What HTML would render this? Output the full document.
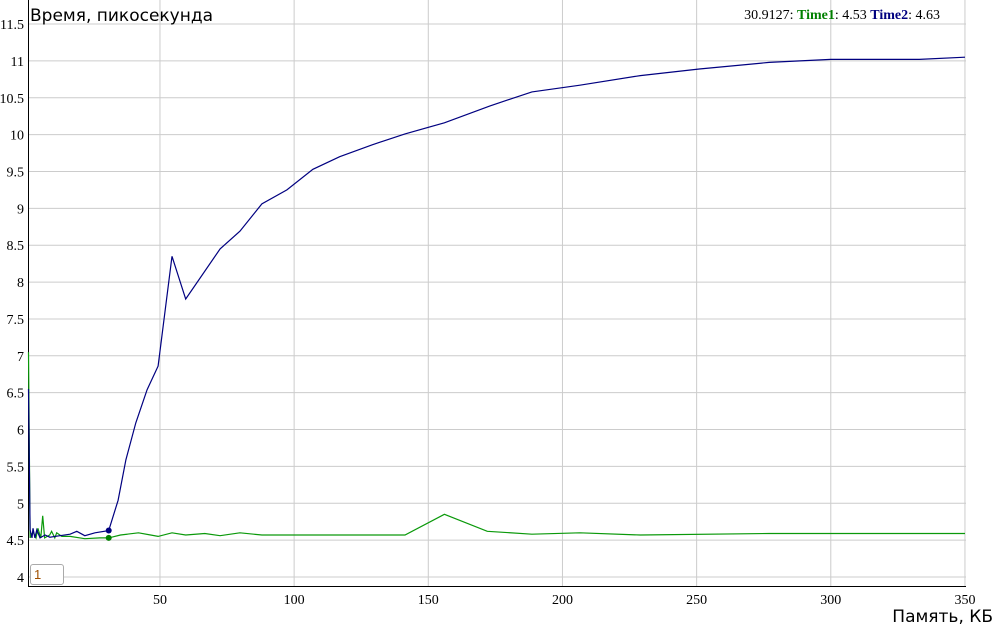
<!DOCTYPE html>
<html><head><meta charset="utf-8"><style>
body{margin:0;background:#fff;width:996px;height:628px;overflow:hidden;font-family:"Liberation Serif",serif}
svg text{font-family:"Liberation Serif",serif}
</style></head><body>
<svg width="996" height="628">
<g id="grid"></g>
<g id="axes"></g>
<g id="series"></g>
<text x="30" y="21" style="font-family:'DejaVu Sans',sans-serif" font-size="17">Время, пикосекунда</text>
<text x="993" y="622" text-anchor="end" style="font-family:'DejaVu Sans',sans-serif" font-size="17">Память, КБ</text>
<text x="940" y="19" text-anchor="end" font-size="14">30.9127: <tspan fill="#008000" font-weight="bold">Time1</tspan>: 4.53 <tspan fill="#000080" font-weight="bold">Time2</tspan>: 4.63</text>
</svg>
<input value="1" style="position:absolute;left:30px;top:564px;width:26px;height:17px;border:1px solid #aaa;border-radius:3px;font-size:13px;padding:1px 3px;color:#a05000">
<script>
const xTicks=[50,100,150,200,250,300,350];
const yTicks=[4,4.5,5,5.5,6,6.5,7,7.5,8,8.5,9,9.5,10,10.5,11,11.5];
const t2x=[1,1.6,2.3,2.7,3.4,4.1,5.3,7.2,9,12.7,16.5,19,22,25.8,30.9,34.4,37.3,41,45.2,49.3,54.5,59.6,72.4,79.8,88,97.3,107,117,129,141.3,156,173,188.6,206.5,229,251,277,300,333,350];
const t2y=[6.55,4.64,4.53,4.66,4.53,4.64,4.53,4.57,4.54,4.56,4.58,4.62,4.56,4.6,4.63,5.04,5.59,6.09,6.54,6.86,8.35,7.77,8.45,8.69,9.06,9.25,9.53,9.7,9.86,10.01,10.16,10.39,10.58,10.67,10.8,10.89,10.98,11.02,11.02,11.05];
const t1x=[1,1.6,2.7,3.8,4.5,5.6,6.3,7,8.9,9.6,10.8,11.5,13.4,16.5,22,27.6,30.9,35.3,42,46.5,49.3,54.5,59.6,66.7,72.4,79.8,88,97.3,107,141.3,156,172,188.6,206.5,229,277,350];
const t1y=[7.05,4.53,4.61,4.53,4.66,4.53,4.83,4.53,4.57,4.62,4.53,4.6,4.55,4.55,4.52,4.53,4.53,4.57,4.6,4.57,4.55,4.6,4.57,4.59,4.56,4.6,4.57,4.57,4.57,4.57,4.85,4.62,4.58,4.6,4.57,4.59,4.59];
const X=v=>25.8+v*2.6833, Y=v=>577-(v-4)*73.73;
const ns='http://www.w3.org/2000/svg';
function mk(p,t,a){const e=document.createElementNS(ns,t);for(const k in a)e.setAttribute(k,a[k]);p.appendChild(e);return e;}
const g=document.getElementById('grid'),ax=document.getElementById('axes'),s=document.getElementById('series');
xTicks.forEach(v=>{const l=mk(g,'line',{x1:X(v),x2:X(v),y1:0,y2:586,stroke:'#ccc'});


const t=mk(ax,'text',{x:X(v),y:604,'text-anchor':'middle','font-size':14});t.textContent=v;

});
yTicks.forEach(v=>{const l=mk(g,'line',{x1:28,x2:966,y1:Y(v),y2:Y(v),stroke:'#ccc'});


const t=mk(ax,'text',{x:24,y:Y(v)+5,'text-anchor':'end','font-size':14});t.textContent=v;

});
const a1=mk(ax,'path',{d:'M28.5 0V586.5H966',stroke:'#000',fill:'none'});


function line(xs,ys,c,name){const p=mk(s,'path',{d:xs.map((x,i)=>(i?'L':'M')+X(x).toFixed(1)+' '+Y(ys[i]).toFixed(1)).join(''),stroke:c,fill:'none','stroke-width':1.2});

}
line(t1x,t1y,'#0a990a','time1-line');
line(t2x,t2y,'#000080','time2-line');
const d1=mk(s,'circle',{cx:X(30.9),cy:Y(4.53),r:3,fill:'#008000'});


const d2=mk(s,'circle',{cx:X(30.9),cy:Y(4.63),r:3,fill:'#000080'});


</script>
</body></html>
